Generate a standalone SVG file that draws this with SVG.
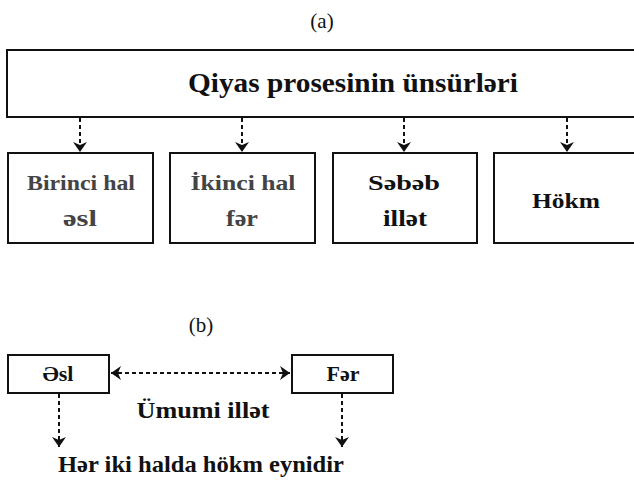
<svg xmlns="http://www.w3.org/2000/svg" width="634" height="481" viewBox="0 0 634 481">
  <style>
    .box { fill: #fff; stroke: #111; stroke-width: 2; }
    .t { font-family: "Liberation Serif", "DejaVu Serif", serif; font-weight: bold; text-anchor: middle; fill: #111; }
    .grey { fill: #444; }
    .cap { font-family: "Liberation Serif", "DejaVu Serif", serif; font-size: 21px; text-anchor: middle; fill: #111; }
    .link { stroke: #111; stroke-width: 2; fill: none; stroke-dasharray: 4 3; }
  </style>
  <defs>
    <marker id="arrow" viewBox="0 0 10 14" refX="10" refY="7" markerWidth="10" markerHeight="14" markerUnits="userSpaceOnUse" orient="auto-start-reverse">
      <path d="M0,0 L10,7 L0,14 L3,7 Z" fill="#111"/>
    </marker>
  </defs>

  <rect width="634" height="481" fill="#fff"/>

  <!-- panel captions -->
  <text class="cap" x="322" y="28">(a)</text>
  <text class="cap" x="201" y="332">(b)</text>

  <!-- (a) element tree -->
  <g id="root">
    <rect class="box" x="7" y="50" width="700" height="67"/>
    <text class="t" x="353" y="92" font-size="28" textLength="330" lengthAdjust="spacingAndGlyphs">Qiyas prosesinin ünsürləri</text>
  </g>
  <g id="asl">
    <rect class="box" x="8" y="153" width="145" height="90"/>
    <text class="t grey" x="81" y="190" font-size="22" textLength="108" lengthAdjust="spacingAndGlyphs">Birinci hal</text>
    <text class="t grey" x="80" y="226" font-size="23" textLength="34" lengthAdjust="spacingAndGlyphs">əsl</text>
  </g>
  <g id="far">
    <rect class="box" x="170" y="153" width="145" height="90"/>
    <text class="t grey" x="243" y="190" font-size="22" textLength="105" lengthAdjust="spacingAndGlyphs">İkinci hal</text>
    <text class="t grey" x="242" y="226" font-size="23" textLength="32" lengthAdjust="spacingAndGlyphs">fər</text>
  </g>
  <g id="illat">
    <rect class="box" x="333" y="153" width="144" height="90"/>
    <text class="t" x="404" y="190" font-size="22" textLength="72" lengthAdjust="spacingAndGlyphs">Səbəb</text>
    <text class="t" x="405" y="226" font-size="23" textLength="44" lengthAdjust="spacingAndGlyphs">illət</text>
  </g>
  <g id="hokm">
    <rect class="box" x="494" y="153" width="146" height="90"/>
    <text class="t" x="566" y="208" font-size="22" textLength="68" lengthAdjust="spacingAndGlyphs">Hökm</text>
  </g>

  <!-- (b) comparison -->
  <g id="b-asl">
    <rect class="box" x="8" y="355" width="101" height="38"/>
    <text class="t" x="58" y="381" font-size="22">Əsl</text>
  </g>
  <g id="b-far">
    <rect class="box" x="292" y="355" width="101" height="38"/>
    <text class="t" x="343" y="381" font-size="22">Fər</text>
  </g>
  <g id="b-illat">
    <text class="t" x="203" y="418" font-size="23" textLength="133" lengthAdjust="spacingAndGlyphs">Ümumi illət</text>
  </g>
  <g id="b-result">
    <text class="t" x="201" y="472" font-size="23" textLength="286" lengthAdjust="spacingAndGlyphs">Hər iki halda hökm eynidir</text>
  </g>

  <g id="connectors">
    <line class="link" x1="80" y1="118" x2="80" y2="152" marker-end="url(#arrow)"/>
    <line class="link" x1="242" y1="118" x2="242" y2="152" marker-end="url(#arrow)"/>
    <line class="link" x1="404" y1="118" x2="404" y2="152" marker-end="url(#arrow)"/>
    <line class="link" x1="567" y1="118" x2="567" y2="152" marker-end="url(#arrow)"/>
    <line class="link" x1="111" y1="373" x2="290" y2="373" marker-start="url(#arrow)" marker-end="url(#arrow)"/>
    <line class="link" x1="59" y1="394" x2="59" y2="447" marker-end="url(#arrow)"/>
    <line class="link" x1="342" y1="394" x2="342" y2="447" marker-end="url(#arrow)"/>
  </g>
</svg>
